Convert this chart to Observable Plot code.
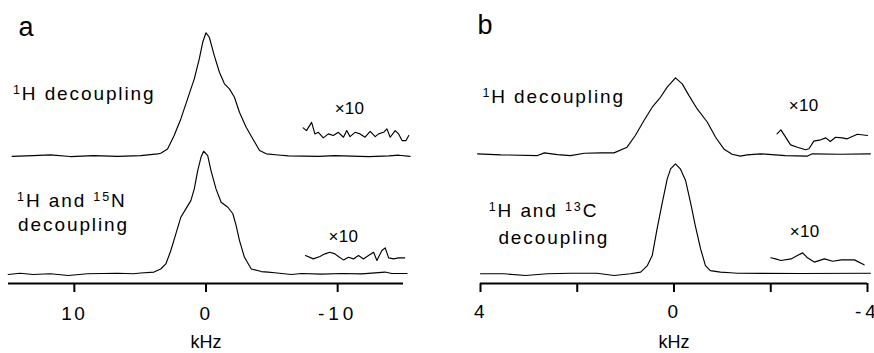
<!DOCTYPE html>
<html><head><meta charset="utf-8">
<script src="https://cdn.jsdelivr.net/npm/d3@7"></script>
<script src="https://cdn.jsdelivr.net/npm/@observablehq/plot@0.6"></script>
<style>
body{margin:0;background:#fff;}
#wrap{display:flex;width:874px;height:353px;overflow:hidden;background:#fff;}
#wrap svg{overflow:visible;flex:none;}
</style></head><body><div id="wrap"></div>
<script>
// ---------- DATA (kHz, intensity) ----------
const domainA = [15, -15];
const ticksA = [10, 0, -10];
const tickLabelsA = ["10", "0", "-10"];
const domainB = [4, -4];
const ticksB = [4, 2, 0, -2, -4];
const tickLabelsB = ["4", "", "0", "", "-4"];
const axisTitle = "kHz";
const intensityRange = [-0.081, 2.057];

// panel a: 1H decoupling
const specA1 = [[14.73,-0.006],[13.13,0],[11.83,0.006],[10.31,-0.008],[8.55,0],[6.72,-0.006],[4.96,0],[3.66,0.014],[3.44,0.019],[2.92,0.054],[2.42,0.163],[1.91,0.298],[1.40,0.461],[0.89,0.623],[0.51,0.786],[0.25,0.921],[0,0.998],[-0.25,0.962],[-0.63,0.813],[-1.02,0.677],[-1.40,0.583],[-1.78,0.542],[-2.16,0.474],[-2.54,0.352],[-3.05,0.230],[-3.56,0.135],[-4.07,0.041],[-4.58,0.014],[-5.47,0.005],[-6.26,-0.002],[-8.55,-0.006],[-9.77,0],[-12.37,-0.008],[-13.89,-0.002],[-14.66,0.003],[-15.5,-0.006]];
// panel a: 1H and 15N decoupling
const specA2 = [[15.02,-0.008],[14.12,0.002],[13.13,-0.008],[11.83,-0.002],[10.46,-0.016],[9.01,-0.002],[6.72,0.002],[5.50,-0.002],[4.96,0.004],[3.95,0.012],[3.44,0.037],[3.05,0.078],[2.67,0.187],[2.29,0.323],[1.91,0.458],[1.53,0.526],[1.15,0.593],[0.89,0.688],[0.63,0.837],[0.38,0.945],[0.18,0.994],[-0.13,0.959],[-0.38,0.837],[-0.76,0.688],[-1.15,0.580],[-1.66,0.539],[-2.04,0.486],[-2.29,0.390],[-2.54,0.270],[-2.92,0.132],[-3.44,0.037],[-4.2,0.016],[-4.71,0.011],[-5.21,0.006],[-6.49,-0.008],[-7.25,0],[-8.78,-0.005],[-10.31,0],[-11.83,-0.003],[-13.59,0.012],[-14.12,0],[-15.27,0]];
// x10 insets, panel a
const insetA1 = [[-7.38,0.225],[-7.63,0.203],[-8.02,0.270],[-8.27,0.176],[-8.53,0.189],[-8.91,0.144],[-9.29,0.176],[-9.67,0.163],[-10.05,0.189],[-10.44,0.149],[-10.69,0.203],[-10.94,0.154],[-11.32,0.189],[-11.70,0.176],[-12.08,0.149],[-12.47,0.197],[-12.85,0.154],[-13.11,0.176],[-13.49,0.189],[-13.74,0.217],[-13.99,0.149],[-14.37,0.203],[-14.63,0.176],[-14.89,0.122],[-15.19,0.122],[-15.4,0.163]];
const insetA2 = [[-7.56,0.146],[-8.15,0.119],[-8.65,0.138],[-9.03,0.160],[-9.41,0.173],[-9.79,0.160],[-10.05,0.138],[-10.44,0.111],[-10.82,0.133],[-11.20,0.119],[-11.58,0.146],[-11.96,0.119],[-12.34,0.146],[-12.73,0.173],[-12.98,0.106],[-13.36,0.187],[-13.61,0.209],[-13.87,0.127],[-14.25,0.119],[-14.63,0.127],[-15.09,0.127]];
// panel b: 1H decoupling
const specB1 = [[4.06,0.008],[3.58,0],[2.82,-0.006],[2.68,0.016],[2.41,0.002],[2.14,-0.006],[1.85,0.013],[1.52,0.016],[1.24,0.016],[0.97,0.062],[0.80,0.157],[0.62,0.279],[0.45,0.387],[0.28,0.468],[0.14,0.550],[-0.03,0.626],[-0.17,0.577],[-0.31,0.481],[-0.48,0.373],[-0.69,0.265],[-0.86,0.143],[-1.03,0.048],[-1.20,0.005],[-1.37,-0.011],[-1.51,0],[-1.79,0.008],[-2.30,-0.006],[-2.75,-0.011],[-2.86,0.008],[-3.44,0.005],[-4.06,0.008]];
// panel b: 1H and 13C decoupling
const specB2 = [[4.0,-0.002],[3.52,-0.002],[3.07,-0.016],[2.62,-0.002],[2.14,0.002],[1.59,0.002],[1.24,-0.016],[0.90,-0.002],[0.69,0.011],[0.55,0.065],[0.45,0.146],[0.35,0.363],[0.24,0.580],[0.14,0.770],[0.07,0.851],[-0.03,0.892],[-0.13,0.851],[-0.24,0.756],[-0.34,0.580],[-0.44,0.390],[-0.55,0.200],[-0.65,0.065],[-0.75,0.024],[-0.96,0.011],[-1.17,0.006],[-1.31,0.002],[-2.61,0],[-4.06,0.002]];
// x10 insets, panel b
const insetB1 = [[-2.13,0.171],[-2.21,0.203],[-2.41,0.081],[-2.55,0.062],[-2.72,0.041],[-2.79,0.049],[-2.89,0.111],[-3.03,0.122],[-3.14,0.138],[-3.23,0.108],[-3.34,0.143],[-3.48,0.138],[-3.58,0.130],[-3.79,0.167],[-4.00,0.157]];
const insetB2 = [[-2.0,0.128],[-2.10,0.119],[-2.21,0.106],[-2.42,0.119],[-2.55,0.146],[-2.66,0.168],[-2.76,0.128],[-2.90,0.093],[-3.11,0.119],[-3.28,0.100],[-3.46,0.111],[-3.73,0.111],[-3.93,0.071]];

// stacking offsets (intensity units): [upper spectrum, lower spectrum]
const offsetsA = [0.959, 0];
const offsetsB = [0.965, 0];

// condition labels: text, kHz, intensity
const condLabelsA = [
  {text: "¹H decoupling", x: 14.66, y: 1.407},
  {text: "¹H and ¹⁵N", x: 14.35, y: 0.539},
  {text: "decoupling", x: 14.27, y: 0.346}
];
const condLabelsB = [
  {text: "¹H decoupling", x: 3.96, y: 1.39},
  {text: "¹H and ¹³C", x: 3.83, y: 0.463},
  {text: "decoupling", x: 3.63, y: 0.244}
];
const scaleLabelsA = [{text: "×10", x: -10.9, y: 1.30}, {text: "×10", x: -10.43, y: 0.254}];
const scaleLabelsB = [{text: "×10", x: -2.68, y: 1.325}, {text: "×10", x: -2.70, y: 0.293}];

// ---------- CHART ----------
const FONT = "'Liberation Sans', Arial, Helvetica, sans-serif";
const SUP = {"¹": "1", "³": "3", "⁵": "5"};

function styleTexts(svg) {
  d3.select(svg).selectAll("text").each(function () {
    const t = this.textContent;
    const el = d3.select(this);
    if (/decoupling|and/.test(t)) {
      el.style("letter-spacing", "1.9px");
      el.text(null);
      let buf = "", sup = false;
      const flush = () => {
        if (!buf) return;
        const ts = el.append("tspan").text(buf);
        if (sup) ts.attr("font-size", "12.5px").attr("baseline-shift", "6.5px");
        buf = "";
      };
      for (const ch of t) {
        const isSup = ch in SUP;
        if (isSup !== sup) { flush(); sup = isSup; }
        buf += isSup ? SUP[ch] : ch;
      }
      flush();
    } else if (/^-?\d+$/.test(t)) {
      el.style("letter-spacing", t.startsWith("-") ? "4px" : "2.5px");
    } else if (t === "×10") {
      el.style("letter-spacing", "0.3px");
    }
  });
}

function panel(cfg) {
  const rows = [];
  cfg.spectra.forEach((s, i) => s.forEach(([x, y]) => rows.push({x, y: y + cfg.offsets[i], id: "s" + i})));
  cfg.insets.forEach((s, i) => s.forEach(([x, y]) => rows.push({x, y: y + cfg.offsets[i], id: "i" + i})));
  const svg = Plot.plot({
    width: 437, height: 353,
    marginLeft: cfg.marginLeft, marginRight: cfg.marginRight, marginTop: 20, marginBottom: 70,
    x: {domain: cfg.domain, axis: null},
    y: {domain: intensityRange, axis: null},
    style: {fontFamily: FONT, background: "white", color: "black", overflow: "visible"},
    marks: [
      Plot.ruleY([intensityRange[0]], {stroke: "black", strokeWidth: 2.2}),
      Plot.axisX({ticks: cfg.ticks, tickFormat: d => cfg.tickLabels[cfg.ticks.indexOf(d)],
        tickSize: 9, tickPadding: cfg.tickPadding, fontSize: 19, strokeWidth: 2, label: null}),
      Plot.line(rows, {x: "x", y: "y", z: "id", stroke: "black", strokeWidth: 1.15, clip: false}),
      Plot.text(cfg.labels, {x: "x", y: "y", text: "text", textAnchor: "start", lineAnchor: "bottom",
        fontSize: 19, fill: "black"}),
      Plot.text(cfg.scaleLabels, {x: "x", y: "y", text: "text", textAnchor: "middle", lineAnchor: "bottom",
        fontSize: 17, fill: "black"}),
      Plot.text([cfg.letter], {frameAnchor: "top-left", text: d => d, textAnchor: "start", lineAnchor: "bottom",
        dx: cfg.letterDx, dy: cfg.letterDy, fontSize: 27, fill: "black"}),
      Plot.text([axisTitle], {frameAnchor: "bottom", text: d => d, lineAnchor: "bottom", dy: 64, fontSize: 18,
        fill: "black"})
    ]
  });
  styleTexts(svg);
  return svg;
}

const wrap = document.getElementById("wrap");
wrap.appendChild(panel({domain: domainA, ticks: ticksA, tickLabels: tickLabelsA, spectra: [specA1, specA2],
  insets: [insetA1, insetA2], offsets: offsetsA, labels: condLabelsA, scaleLabels: scaleLabelsA,
  letter: "a", letterDx: 10, letterDy: 15, marginLeft: 8, marginRight: 34, tickPadding: 14}));
wrap.appendChild(panel({domain: domainB, ticks: ticksB, tickLabels: tickLabelsB, spectra: [specB1, specB2],
  insets: [insetB1, insetB2], offsets: offsetsB, labels: condLabelsB, scaleLabels: scaleLabelsB,
  letter: "b", letterDx: -3, letterDy: 13, marginLeft: 43, marginRight: 7, tickPadding: 12}));
</script>
</body></html>
